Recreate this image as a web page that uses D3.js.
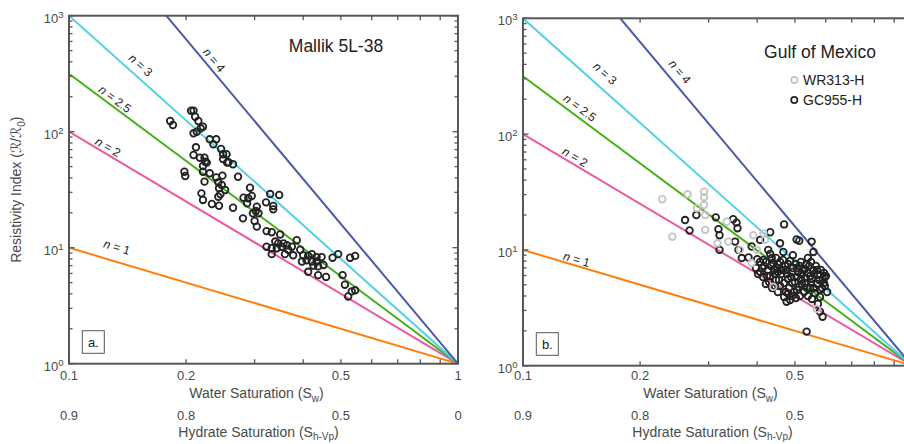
<!DOCTYPE html>
<html>
<head>
<meta charset="utf-8">
<script src="https://cdn.jsdelivr.net/npm/d3@7"></script>
<style>
  body { margin: 0; background: #fff; }
  svg text { font-family: "Liberation Sans", Arial, Helvetica, sans-serif; }
</style>
</head>
<body>
<svg id="chart" width="904" height="444"></svg>
<script>
// Archie saturation exponents drawn as reference lines: RI = Sw^-n
const exponents = [1, 2, 2.5, 3, 4];

// Axis ticks and labels
const swTicks = [0.1, 0.2, 0.3, 0.4, 0.5, 0.6, 0.7, 0.8, 0.9, 1];
const swLabelTicks = [0.1, 0.2, 0.5, 1];
const swLabels = ["0.1", "0.2", "0.5", "1"];
const hydrateLabels = ["0.9", "0.8", "0.5", "0"];
const riDecades = [1, 10, 100, 1000];
const riDecadeExponents = ["0", "1", "2", "3"];

// Mallik 5L-38: water saturation and resistivity index
const mallikSw = [0.206, 0.209, 0.211, 0.215, 0.182, 0.185, 0.221, 0.218, 0.209, 0.213,
  0.230, 0.239, 0.235, 0.212, 0.246, 0.209, 0.217, 0.223, 0.249, 0.254,
  0.249, 0.257, 0.264, 0.226, 0.221, 0.221, 0.230, 0.198, 0.199, 0.239,
  0.248, 0.272, 0.223, 0.242, 0.247, 0.243, 0.252, 0.245, 0.292, 0.219,
  0.221, 0.233, 0.243, 0.264, 0.281, 0.289, 0.295, 0.287, 0.304, 0.302,
  0.297, 0.307, 0.329, 0.347, 0.321, 0.335, 0.335, 0.280, 0.300, 0.304,
  0.322, 0.332, 0.349, 0.339, 0.345, 0.356, 0.322, 0.332, 0.342, 0.352,
  0.363, 0.374, 0.385, 0.332, 0.359, 0.377, 0.366, 0.393, 0.400, 0.412,
  0.421, 0.433, 0.446, 0.408, 0.421, 0.433, 0.397, 0.425, 0.437, 0.451,
  0.412, 0.437, 0.458, 0.476, 0.492, 0.528, 0.544, 0.505, 0.512, 0.533,
  0.522, 0.544, 0.224, 0.242, 0.255];
const mallikRI = [151.7, 152, 134.6, 123.7, 123.7, 114.2, 110.5, 107, 96.9, 100,
  86, 86, 77.9, 73.4, 71, 63, 59.7, 59.7, 63.9, 63.9,
  58.2, 54.5, 52.4, 54.1, 50.6, 45.2, 43.8, 45.2, 41.5, 40.4,
  41.8, 40.9, 37.1, 36.6, 34.7, 32.5, 31.4, 28.9, 32.9, 29.4,
  25.8, 23.8, 23.0, 22.1, 27.0, 26.7, 27.9, 24.1, 22.6, 20.7,
  19.8, 19.8, 29.0, 28.5, 24.6, 22.9, 21.4, 17.9, 17.0, 15.2,
  13.9, 13.6, 13.0, 11.3, 10.9, 10.9, 10.2, 9.9, 9.9, 10.2,
  10.5, 10.2, 11.6, 8.8, 8.8, 8.6, 9.6, 9.6, 8.6, 8.5,
  8.8, 8.3, 8.3, 7.8, 7.6, 7.6, 7.6, 7.0, 6.9, 7.1,
  6.2, 5.8, 5.6, 8.2, 8.8, 8.2, 8.5, 5.8, 4.8, 4.2,
  3.8, 4.3, 55.1, 27.5, 54.1];

// Gulf of Mexico, WR313-H
const wr313Sw = [0.228, 0.265, 0.292, 0.292, 0.292, 0.280, 0.294, 0.242, 0.294, 0.334,
  0.316, 0.337, 0.391, 0.415, 0.419, 0.361, 0.387, 0.399, 0.440, 0.569];
const wr313RI = [27.4, 30.2, 31.8, 28.5, 24.4, 22.9, 20.0, 13.0, 14.9, 17.5,
  11.4, 11.8, 13.4, 13.9, 12.2, 10.0, 7.7, 10.0, 4.8, 3.1];

// Gulf of Mexico, GC955-H
const gc955Sw = [0.261, 0.268, 0.279, 0.313, 0.318, 0.320, 0.320, 0.347, 0.354, 0.356,
  0.351, 0.358, 0.365, 0.380, 0.400, 0.387, 0.407, 0.432, 0.469, 0.458,
  0.427, 0.415, 0.436, 0.467, 0.494, 0.505, 0.513, 0.552, 0.558, 0.536,
  0.589, 0.580, 0.597, 0.476, 0.480,
  0.397, 0.407, 0.417, 0.426, 0.414, 0.432, 0.439, 0.450, 0.444, 0.458,
  0.463, 0.455, 0.472, 0.477, 0.469, 0.486, 0.494, 0.489, 0.483, 0.503,
  0.509, 0.500, 0.497, 0.518, 0.525, 0.518, 0.512, 0.534, 0.540, 0.534,
  0.528, 0.550, 0.557, 0.553, 0.547, 0.566, 0.573, 0.570, 0.563, 0.583,
  0.590, 0.587, 0.580, 0.601, 0.597, 0.421, 0.437, 0.452, 0.469, 0.486,
  0.503, 0.553, 0.573, 0.407, 0.447, 0.540, 0.605, 0.458, 0.515, 0.432,
  0.402, 0.412, 0.421, 0.424, 0.434, 0.442, 0.447, 0.452, 0.461, 0.466,
  0.474, 0.480, 0.480, 0.492, 0.492, 0.506, 0.506, 0.506, 0.515, 0.521,
  0.521, 0.531, 0.531, 0.537, 0.544, 0.547, 0.550, 0.560, 0.560, 0.570,
  0.577, 0.580, 0.594, 0.594, 0.452, 0.429, 0.444, 0.474, 0.492, 0.540];
const gc955RI = [18.1, 14.7, 20.0, 19.1, 15.1, 13.4, 10.0, 18.4, 17.2, 15.4,
  11.8, 10.0, 8.5, 8.6, 8.3, 10.7, 12.2, 14.2, 16.6, 11.4,
  10.0, 8.2, 8.5, 9.6, 9.0, 12.3, 12.0, 11.8, 9.6, 1.97,
  2.65, 2.93, 5.8, 3.57, 4.2,
  6.98, 6.45, 7.26, 6.71, 5.83, 5.95, 7.71, 6.98, 6.19, 7.86,
  6.71, 5.50, 7.26, 6.19, 5.18, 8.02, 6.98, 5.83, 4.69, 7.55,
  6.45, 5.28, 4.33, 7.86, 6.71, 5.61, 4.78, 7.41, 6.32, 5.18,
  4.33, 7.86, 6.71, 5.61, 4.69, 7.26, 6.07, 5.08, 4.24, 6.71,
  5.61, 4.69, 3.92, 5.95, 4.88, 5.08, 4.69, 4.33, 3.92, 3.69,
  3.84, 3.77, 3.41, 7.86, 8.51, 8.51, 4.33, 4.88, 4.00, 9.22,
  6.19, 6.98, 7.86, 5.95, 7.26, 6.71, 5.50, 7.55, 6.19, 8.18,
  6.71, 5.61, 7.55, 6.45, 5.18, 6.98, 5.83, 4.51, 7.26, 6.19,
  5.08, 6.84, 5.72, 4.69, 7.26, 5.95, 5.18, 6.19, 4.69, 6.71,
  5.50, 4.51, 5.18, 6.32, 6.45, 5.28, 4.88, 4.33, 4.00, 4.00];

// ---------------------------------------------------------------------------
const lineColors = { 1: "#ff7f0e", 2: "#ea5aa2", 2.5: "#45b21c", 3: "#4fd3e4", 4: "#4b59a9" };
const axisColor = "#575757";
const textColor = "#4a4a4a";
const chartWidth = 904;

const panels = [
  {
    key: "a", left: 69, top: 15.7, width: 389, height: 348,
    labels: { 1: [0.1328, 10.14], 2: [0.126, 73.8], 2.5: [0.1313, 191.4], 3: [0.1529, 375.8], 4: [0.236, 415] },
    series: [{ sw: mallikSw, ri: mallikRI, color: "#222" }]
  },
  {
    key: "b", left: 523, top: 18.3, width: 389, height: 347.4,
    labels: { 1: [0.1374, 8.3], 2: [0.1361, 63.4], 2.5: [0.1401, 169], 3: [0.1625, 335], 4: [0.253, 346] },
    series: [
      { sw: gc955Sw, ri: gc955RI, color: "#222" },
      { sw: wr313Sw, ri: wr313RI, color: "#c4c4c4" }
    ]
  }
];

const svg = d3.select("#chart");
const defs = svg.append("defs");

panels.forEach(p => {
  const bottom = p.top + p.height, right = p.left + p.width;
  const x = d3.scaleLog().domain([0.1, 1]).range([p.left, right]);
  const y = d3.scaleLog().domain([1, 1000]).range([bottom, p.top]);
  const g = svg.append("g").attr("class", "panel-" + p.key);

  defs.append("clipPath").attr("id", "clip-" + p.key)
    .append("rect").attr("x", p.left).attr("y", p.top).attr("width", p.width).attr("height", p.height);

  const plot = g.append("g").attr("clip-path", `url(#clip-${p.key})`);

  // reference lines
  plot.selectAll("line.ref").data(exponents).join("line")
    .attr("class", "ref")
    .attr("x1", n => x(Math.max(0.1, Math.pow(1000, -1 / n))))
    .attr("y1", n => y(Math.pow(Math.max(0.1, Math.pow(1000, -1 / n)), -n)))
    .attr("x2", x(1)).attr("y2", y(1))
    .attr("stroke", n => lineColors[n]).attr("stroke-width", 2);

  // measurements
  p.series.forEach(s => {
    plot.append("g").selectAll("circle").data(d3.range(s.sw.length)).join("circle")
      .attr("cx", i => x(s.sw[i])).attr("cy", i => y(s.ri[i]))
      .attr("r", 3.3).attr("fill", "none").attr("stroke", s.color).attr("stroke-width", 1.8);
  });

  // exponent labels along the lines
  const ratio = (y(1) - y(10)) / (x(1) - x(0.1));
  exponents.forEach(n => {
    const [lsw, lri] = p.labels[n];
    const ang = Math.atan(n * ratio) * 180 / Math.PI;
    const t = g.append("text")
      .attr("transform", `translate(${x(lsw)},${y(lri)}) rotate(${ang})`)
      .attr("text-anchor", "middle").attr("dy", "0.35em")
      .attr("font-size", 12).attr("fill", "#222");
    t.append("tspan").attr("font-style", "italic").text("n");
    t.append("tspan").text(" = " + n);
  });

  // box
  g.append("rect").attr("x", p.left).attr("y", p.top).attr("width", p.width).attr("height", p.height)
    .attr("fill", "none").attr("stroke", axisColor).attr("stroke-width", 2);

  // x ticks (bottom and top, inward)
  const tk = g.append("g").attr("stroke", axisColor).attr("stroke-width", 1.3);
  tk.selectAll("line.xb").data(swTicks).join("line").attr("class", "xb")
    .attr("x1", d => x(d)).attr("x2", d => x(d)).attr("y1", bottom).attr("y2", bottom - 4.5);
  tk.selectAll("line.xt").data(swTicks).join("line").attr("class", "xt")
    .attr("x1", d => x(d)).attr("x2", d => x(d)).attr("y1", p.top).attr("y2", p.top + 4.5);

  // y ticks (left and right, inward)
  const yTicks = [];
  [1, 10, 100].forEach(dec => d3.range(1, 10).forEach(m => yTicks.push(dec * m)));
  yTicks.push(1000);
  const isMajor = v => riDecades.includes(v);
  tk.selectAll("line.yl").data(yTicks).join("line").attr("class", "yl")
    .attr("x1", p.left).attr("x2", d => p.left + (isMajor(d) ? 5.5 : 3.5))
    .attr("y1", d => y(d)).attr("y2", d => y(d));
  tk.selectAll("line.yr").data(yTicks).join("line").attr("class", "yr")
    .attr("x1", right).attr("x2", d => right - (isMajor(d) ? 5.5 : 3.5))
    .attr("y1", d => y(d)).attr("y2", d => y(d));

  // y tick labels 10^k
  riDecades.forEach((v, i) => {
    const t = g.append("text").attr("x", p.left - 5.5).attr("y", y(v) + 7)
      .attr("text-anchor", "end").attr("font-size", 13).attr("fill", textColor);
    t.append("tspan").text("10");
    t.append("tspan").attr("font-size", 9.5).attr("dy", -5).text(riDecadeExponents[i]);
  });

  // x tick labels: water saturation and hydrate saturation rows (only those inside the page)
  swLabelTicks.forEach((v, i) => {
    if (x(v) + 6 > chartWidth) return;
    g.append("text").attr("x", x(v)).attr("y", 380).attr("text-anchor", "middle")
      .attr("font-size", 13).attr("fill", textColor).text(swLabels[i]);
    g.append("text").attr("x", x(v)).attr("y", 420).attr("text-anchor", "middle")
      .attr("font-size", 13).attr("fill", textColor).text(hydrateLabels[i]);
  });

  // axis titles
  const wt = g.append("text").attr("x", p.left + 120.3).attr("y", 398.3)
    .attr("font-size", 14).attr("fill", textColor);
  wt.append("tspan").text("Water Saturation (S");
  wt.append("tspan").attr("font-size", 10).attr("dy", 3.5).text("w");
  wt.append("tspan").attr("dy", -3.5).text(")");

  const ht = g.append("text").attr("x", p.left + 109.3).attr("y", 436.7)
    .attr("font-size", 14).attr("fill", textColor);
  ht.append("tspan").text("Hydrate Saturation (S");
  ht.append("tspan").attr("font-size", 10).attr("dy", 3.5).text("h-Vp");
  ht.append("tspan").attr("dy", -3.5).text(")");

  // panel tag
  g.append("rect").attr("x", p.left + 13.3).attr("y", bottom - 33).attr("width", 22).attr("height", 22.6)
    .attr("fill", "#fff").attr("stroke", axisColor).attr("stroke-width", 1);
  g.append("text").attr("x", p.left + 24.3).attr("y", bottom - 17)
    .attr("text-anchor", "middle").attr("font-size", 13).attr("fill", "#222").text(p.key + ".");
});

// y axis title
const yt = svg.append("text")
  .attr("transform", "translate(21,189.7) rotate(-90)")
  .attr("text-anchor", "middle").attr("font-size", 14).attr("fill", textColor);
yt.append("tspan").text("Resistivity Index (");
yt.append("tspan").attr("font-family", "DejaVu Sans").attr("font-style", "italic").text("\u211B");
yt.append("tspan").text("/");
yt.append("tspan").attr("font-family", "DejaVu Sans").attr("font-style", "italic").text("\u211B");
yt.append("tspan").attr("font-size", 10).attr("dy", 3.5).text("0");
yt.append("tspan").attr("dy", -3.5).text(")");

// panel titles and legend
svg.append("text").attr("x", 336).attr("y", 52).attr("text-anchor", "middle")
  .attr("font-size", 17.5).attr("fill", "#222").text("Mallik 5L-38");
svg.append("text").attr("x", 820).attr("y", 58).attr("text-anchor", "middle")
  .attr("font-size", 17.5).attr("fill", "#222").text("Gulf of Mexico");

const legendItems = [
  { name: "WR313-H", color: "#c4c4c4" },
  { name: "GC955-H", color: "#222" }
];
const lg = svg.append("g");
legendItems.forEach((d, i) => {
  lg.append("circle").attr("cx", 794.3).attr("cy", 80 + i * 20).attr("r", 3.1)
    .attr("fill", "none").attr("stroke", d.color).attr("stroke-width", 1.7);
  lg.append("text").attr("x", 803).attr("y", 85.3 + i * 20).attr("font-size", 14)
    .attr("fill", "#222").text(d.name);
});
</script>
</body>
</html>
